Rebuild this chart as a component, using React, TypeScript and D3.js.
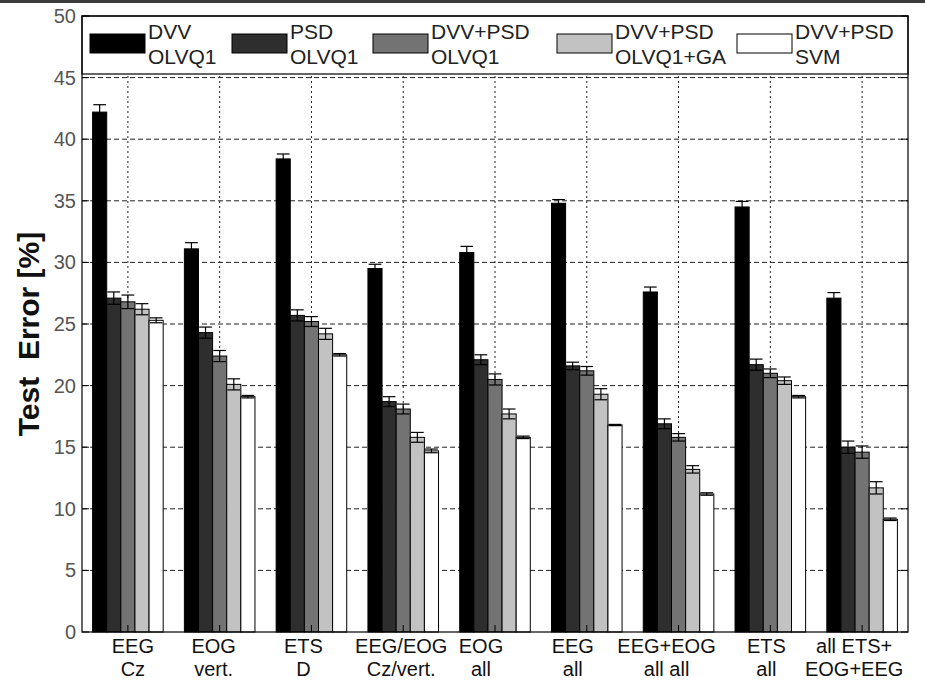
import React from "react";
import * as d3 from "d3";

const labelLine1 = ["EEG", "EOG", "ETS", "EEG/EOG", "EOG", "EEG", "EEG+EOG", "ETS", "all ETS+"];
const labelLine2 = ["Cz", "vert.", "D", "Cz/vert.", "all", "all", "all all", "all", "EOG+EEG"];

const seriesLine1 = ["DVV", "PSD", "DVV+PSD", "DVV+PSD", "DVV+PSD"];
const seriesLine2 = ["OLVQ1", "OLVQ1", "OLVQ1", "OLVQ1+GA", "SVM"];

const dvvOlvq = [42.2, 31.1, 38.4, 29.5, 30.8, 34.8, 27.6, 34.5, 27.1];
const psdOlvq = [27.1, 24.3, 25.7, 18.7, 22.1, 21.6, 16.9, 21.7, 15.0];
const bothOlvq = [26.8, 22.4, 25.2, 18.1, 20.5, 21.2, 15.8, 21.0, 14.6];
const bothOlvqGa = [26.2, 20.1, 24.2, 15.8, 17.7, 19.3, 13.2, 20.4, 11.7];
const bothSvm = [25.3, 19.1, 22.5, 14.7, 15.8, 16.8, 11.2, 19.1, 9.15];

const errDvvOlvq = [0.6, 0.5, 0.4, 0.35, 0.5, 0.3, 0.4, 0.45, 0.45];
const errPsdOlvq = [0.5, 0.45, 0.45, 0.4, 0.4, 0.3, 0.4, 0.45, 0.5];
const errBothOlvq = [0.55, 0.45, 0.4, 0.4, 0.45, 0.35, 0.3, 0.35, 0.5];
const errBothOlvqGa = [0.45, 0.45, 0.45, 0.4, 0.4, 0.45, 0.3, 0.3, 0.5];
const errBothSvm = [0.2, 0.1, 0.1, 0.15, 0.1, 0.05, 0.1, 0.1, 0.1];

const yTicks = [0, 5, 10, 15, 20, 25, 30, 35, 40, 45, 50];

const values = [dvvOlvq, psdOlvq, bothOlvq, bothOlvqGa, bothSvm];
const errors = [errDvvOlvq, errPsdOlvq, errBothOlvq, errBothOlvqGa, errBothSvm];
const colors = ["#000000", "#2e2e2e", "#737373", "#c2c2c2", "#ffffff"];

// layout
const W = 925, H = 684;
const L = 82, R = 908, T = 16, B = 632;
const labelDx = [5, -6, -8, -2, -14, -14, -12, -4, -8];
const legendX = [90, 232, 373, 557, 737];
const FONT = "'Liberation Sans', Arial, Helvetica, sans-serif";

export default function App() {
  const idx = d3.range(labelLine1.length);
  const x = d3.scaleBand<number>().domain(idx).range([L, R]).paddingInner(0).paddingOuter(0);
  const y = d3.scaleLinear().domain([0, 50]).range([B, T]);
  const groupW = x.bandwidth() * 0.769;
  const xs = d3
    .scaleBand<number>()
    .domain(d3.range(values.length))
    .range([0, groupW]);
  const bw = xs.bandwidth();
  const cap = bw * 0.45;

  return (
    <div style={{ position: "absolute", left: 0, top: 0 }}>
      <svg width={W} height={H} style={{ display: "block", fontFamily: FONT }}>
        <rect x={0} y={0} width={W} height={H} fill="#ffffff" />
        <rect x={0} y={0} width={W} height={3} fill="#3a3a3a" />
        {/* horizontal grid */}
        {yTicks.slice(1, -1).map((t) => (
          <line key={"h" + t} x1={L} x2={R} y1={y(t)} y2={y(t)} stroke="#222" strokeWidth={1} strokeDasharray="5,3" />
        ))}
        {/* vertical grid */}
        {idx.map((i) => {
          const cx = x(i)! + x.bandwidth() / 2;
          return <line key={"v" + i} x1={cx} x2={cx} y1={T} y2={B} stroke="#222" strokeWidth={1} strokeDasharray="2,3" />;
        })}
        {/* bars */}
        {values.map((s, si) =>
          s.map((v, i) => {
            const x0 = x(i)! + (x.bandwidth() - groupW) / 2 + xs(si)!;
            return (
              <rect key={`b${si}-${i}`} x={x0} y={y(v)} width={bw} height={B - y(v)} fill={colors[si]} stroke="#000" strokeWidth={1} />
            );
          })
        )}
        {/* error bars */}
        {values.map((s, si) =>
          s.map((v, i) => {
            const cx = x(i)! + (x.bandwidth() - groupW) / 2 + xs(si)! + bw / 2;
            const e = errors[si][i];
            return (
              <g key={`e${si}-${i}`} stroke="#000" strokeWidth={1.2}>
                <line x1={cx} x2={cx} y1={y(v - e)} y2={y(v + e)} />
                <line x1={cx - cap} x2={cx + cap} y1={y(v + e)} y2={y(v + e)} />
                <line x1={cx - cap} x2={cx + cap} y1={y(v - e)} y2={y(v - e)} />
              </g>
            );
          })
        )}
        {/* legend */}
        <rect x={L} y={T} width={R - L} height={58} fill="#fff" stroke="#000" strokeWidth={1.2} />
        {seriesLine1.map((s, si) => (
          <g key={"lg" + si}>
            <rect x={legendX[si]} y={34} width={55} height={19} fill={colors[si]} stroke="#000" strokeWidth={1} />
            <text x={legendX[si] + 58} y={39} fontSize={21} fill="#222">
              {s}
            </text>
            <text x={legendX[si] + 58} y={64} fontSize={21} fill="#222">
              {seriesLine2[si]}
            </text>
          </g>
        ))}
        {/* axes box */}
        <rect x={L} y={T} width={R - L} height={B - T} fill="none" stroke="#000" strokeWidth={1.2} />
        {yTicks.map((t) => (
          <g key={"yt" + t}>
            <line x1={L} x2={L + 7} y1={y(t)} y2={y(t)} stroke="#000" />
            <line x1={R} x2={R - 7} y1={y(t)} y2={y(t)} stroke="#000" />
            <text x={L - 6} y={y(t)} dy="0.35em" textAnchor="end" fontSize={20} fill="#555">
              {t}
            </text>
          </g>
        ))}
        {idx.map((i) => {
          const cx = x(i)! + x.bandwidth() / 2;
          return (
            <g key={"xt" + i}>
              <line x1={cx} x2={cx} y1={B} y2={B - 7} stroke="#000" />
              <text x={cx + labelDx[i]} y={653} textAnchor="middle" fontSize={20} fill="#111">
                {labelLine1[i]}
              </text>
              <text x={cx + labelDx[i]} y={676} textAnchor="middle" fontSize={20} fill="#111">
                {labelLine2[i]}
              </text>
            </g>
          );
        })}
        <text
          transform={`translate(39,${(T + B) / 2 + 10}) rotate(-90)`}
          textAnchor="middle"
          fontSize={30}
          fontWeight="bold"
          fill="#111"
          style={{ whiteSpace: "pre" }}
        >
          {"Test  Error [%]"}
        </text>
      </svg>
    </div>
  );
}
